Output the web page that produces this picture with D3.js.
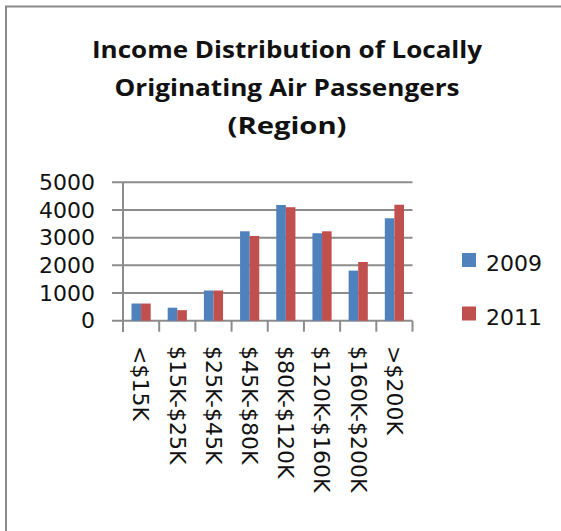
<!DOCTYPE html>
<html>
<head>
<meta charset="utf-8">
<script src="https://cdnjs.cloudflare.com/ajax/libs/d3/7.8.5/d3.min.js"></script>
<style>
body{margin:0;background:#fff;}
</style>
</head>
<body>
<svg id="chart_svg"></svg>
<script>
var width=561;
var height=531;

// data
var categories=["<$15K","$15K-$25K","$25K-$45K","$45K-$80K","$80K-$120K","$120K-$160K","$160K-$200K",">$200K"];
var series=["2009","2011"];
var values2009=[620,470,1090,3230,4180,3160,1810,3700];
var values2011=[620,380,1090,3060,4100,3230,2120,4190];
var yTicks=[0,1000,2000,3000,4000,5000];
var titleLines=["Income Distribution of Locally","Originating Air Passengers","(Region)"];

var colorScale=d3.scaleOrdinal()
.domain(series)
.range(["#4F81BD","#C0504D"]);

var svg=d3.select("#chart_svg")
.attr("width",width)
.attr("height",height);

// outer chart border
svg.append("rect")
.attr("x",6)
.attr("y",6.5)
.attr("width",width)
.attr("height",height)
.style("fill","white")
.style("stroke","#8a8a8a")
.style("stroke-width",2);

var titleWidths=[390,345,119];
svg.append("g")
.selectAll("text")
.data(titleLines)
.join("text")
.attr("x",287)
.attr("y",(d,i)=>58+i*38)
.attr("text-anchor","middle")
.attr("textLength",(d,i)=>titleWidths[i])
.attr("lengthAdjust","spacingAndGlyphs")
.style("font-family","'Open Sans', Lato, sans-serif")
.style("font-weight","bold")
.style("font-size","24px")
.style("fill","#111")
.text(d=>d);

var plot={left:123,right:412.5,top:182.3,bottom:320.7};

var x0=d3.scaleBand()
.domain(categories)
.range([plot.left,plot.right])
.padding(0);

var x1=d3.scaleBand()
.domain(series)
.range([x0.bandwidth()*0.235,x0.bandwidth()*0.765]);

var y=d3.scaleLinear()
.domain([0,5000])
.range([plot.bottom,plot.top]);

// gridlines + y ticks
svg.append("g")
.selectAll("line")
.data(yTicks)
.join("line")
.attr("x1",plot.left-11)
.attr("x2",plot.right)
.attr("y1",d=>y(d))
.attr("y2",d=>y(d))
.style("stroke","#8c8c8c")
.style("stroke-width",2);

svg.append("g")
.selectAll("text")
.data(yTicks)
.join("text")
.attr("x",95)
.attr("y",d=>y(d))
.attr("dy","0.35em")
.attr("text-anchor","end")
.style("font-family","'DejaVu Sans', Verdana, sans-serif")
.style("font-size","22px")
.style("fill","#111")
.text(d=>d);

// bars
var rows=categories.map((c,i)=>({cat:c,vals:[values2009[i],values2011[i]]}));
svg.append("g")
.selectAll("g")
.data(rows)
.join("g")
.attr("transform",d=>"translate("+x0(d.cat)+",0)")
.selectAll("rect")
.data(d=>d.vals.map((v,j)=>({key:series[j],value:v})))
.join("rect")
.attr("x",d=>x1(d.key))
.attr("y",d=>y(d.value))
.attr("width",x1.bandwidth())
.attr("height",d=>y(0)-y(d.value))
.style("fill",d=>colorScale(d.key));

// y axis line
svg.append("line")
.attr("x1",plot.left)
.attr("x2",plot.left)
.attr("y1",plot.top)
.attr("y2",plot.bottom+11)
.style("stroke","#8c8c8c")
.style("stroke-width",2);

// x axis ticks between categories
var boundaries=categories.map(c=>x0(c)+x0.bandwidth()).concat([plot.left]);
svg.append("g")
.selectAll("line")
.data(boundaries)
.join("line")
.attr("x1",d=>d)
.attr("x2",d=>d)
.attr("y1",plot.bottom)
.attr("y2",plot.bottom+11)
.style("stroke","#8c8c8c")
.style("stroke-width",2);

// category labels, rotated
svg.append("g")
.selectAll("text")
.data(categories)
.join("text")
.attr("transform",d=>"translate("+(x0(d)+x0.bandwidth()/2)+",346) rotate(90)")
.attr("dy","0.35em")
.attr("text-anchor","start")
.style("font-family","'DejaVu Sans', Verdana, sans-serif")
.style("font-size","22px")
.style("fill","#111")
.text(d=>d);

// legend
var legend=svg.append("g")
.selectAll("g")
.data(series)
.join("g")
.attr("transform",(d,i)=>"translate(462,"+(253+i*53.5)+")");

legend.append("rect")
.attr("width",14)
.attr("height",14)
.style("fill",d=>colorScale(d));

legend.append("text")
.attr("x",24)
.attr("y",18)
.style("font-family","'DejaVu Sans', Verdana, sans-serif")
.style("font-size","22px")
.style("fill","#111")
.text(d=>d);
</script>
</body>
</html>
